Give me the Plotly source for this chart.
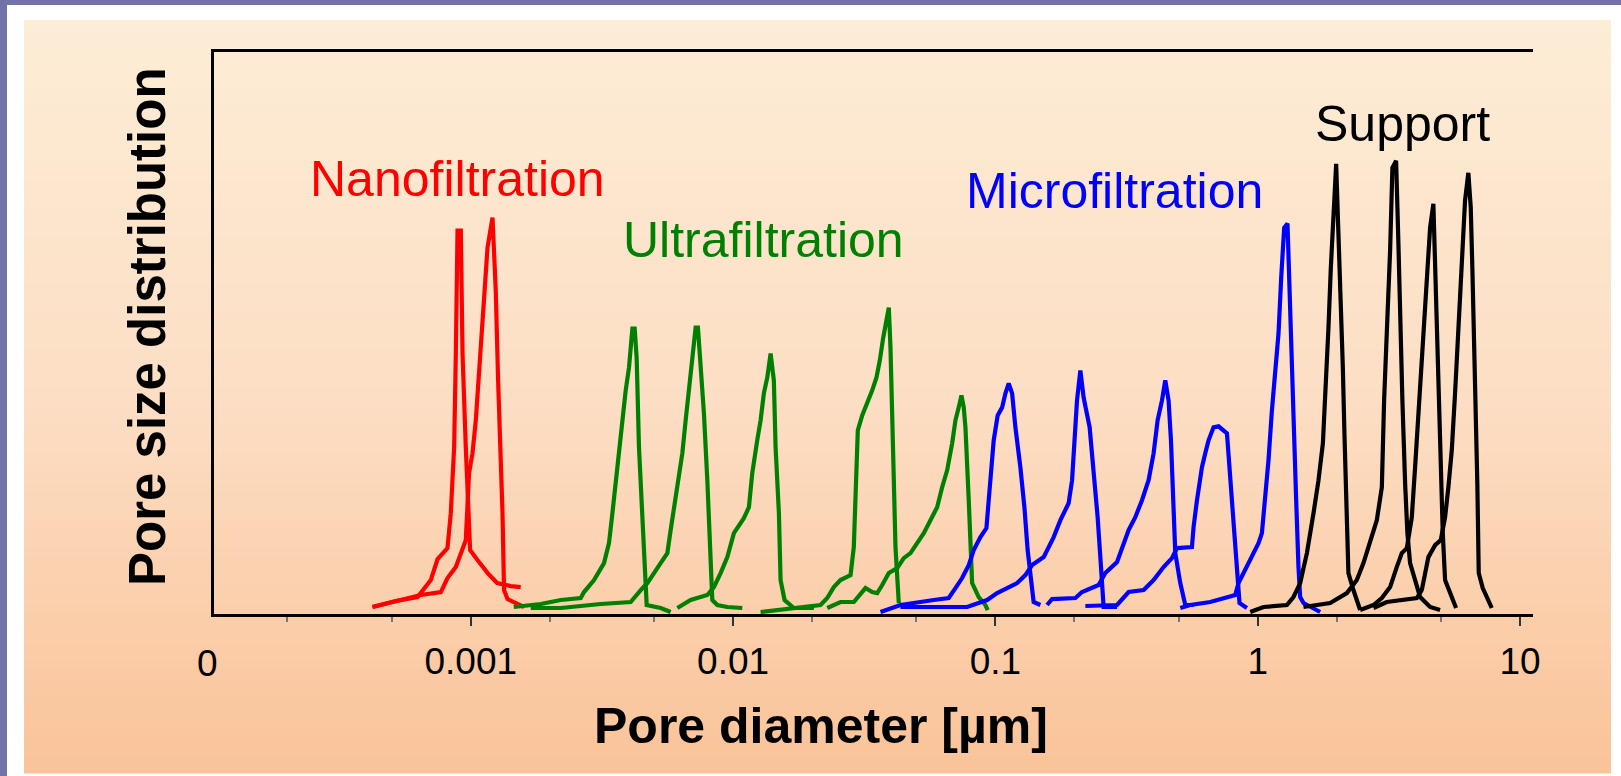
import plotly.graph_objects as go

# ---------------- data (pore diameter in µm, distribution in arbitrary units) -------------
nano_a_x = [0.000422, 0.000518, 0.000627, 0.000704, 0.000747, 0.000815, 0.000839, 0.000864, 0.000877,
            0.000890, 0.000916, 0.000930, 0.000957, 0.000977, 0.000994, 0.00106, 0.00116, 0.00126, 0.00142, 0.00155]
nano_a_y = [7, 13, 17, 34, 55, 66, 101, 167, 261, 384, 384, 261, 167, 101, 64, 54, 41, 31, 28, 27]

nano_b_x = [0.000422, 0.000510, 0.000645, 0.000769, 0.000815, 0.000877, 0.000930, 0.000957, 0.000985,
            0.001015, 0.001045, 0.001076, 0.001118, 0.001158, 0.00121, 0.001245, 0.001271, 0.001301,
            0.001321, 0.001339, 0.00138, 0.001484, 0.001596]
nano_b_y = [7, 12, 19, 22, 36, 47, 67, 74, 141, 161, 194, 247, 317, 367, 397, 324, 234, 161, 101, 24, 15, 11, 7]

ultra_1_x = [0.001458, 0.001848, 0.002203, 0.002625, 0.002702, 0.00295, 0.00322, 0.003364, 0.003466,
             0.003568, 0.003673, 0.003784, 0.003895, 0.00401, 0.004131, 0.004215, 0.004289, 0.004377,
             0.004509, 0.004642, 0.004683, 0.005294, 0.00578]
ultra_1_y = [7, 10, 14, 16, 22, 34, 51, 71, 101, 134, 161, 194, 224, 247, 286, 286, 256, 167, 101, 34, 9, 6, 2]

ultra_2_x = [0.001693, 0.002203, 0.003128, 0.00407, 0.004443, 0.004711, 0.005294, 0.005615, 0.00578,
             0.006039, 0.006216, 0.006404, 0.006593, 0.006786, 0.006992, 0.007197, 0.007344, 0.00752,
             0.007741, 0.007975, 0.008159, 0.008332, 0.008706, 0.009506, 0.01084]
ultra_2_y = [6, 6, 10, 12, 24, 31, 51, 61, 84, 117, 134, 161, 194, 224, 254, 287, 287, 251, 201, 134, 67, 14, 9, 7, 6]

ultra_3_x = [0.00613, 0.006888, 0.007975, 0.00845, 0.008961, 0.009506, 0.01007, 0.01099, 0.01149,
             0.01183, 0.01236, 0.01273, 0.0131, 0.0135, 0.0139, 0.0143, 0.01452, 0.01495, 0.01517,
             0.01571, 0.01705, 0.02032]
ultra_3_y = [6, 14, 19, 27, 41, 57, 81, 96, 107, 141, 174, 194, 221, 237, 261, 234, 167, 101, 34, 14, 6, 6]

ultra_4_x = [0.01273, 0.01705, 0.02154, 0.02285, 0.02421, 0.02567, 0.02804, 0.02885, 0.02929, 0.02988,
             0.03106, 0.03245, 0.03391, 0.03521, 0.03625, 0.03735, 0.03844, 0.03923, 0.03981, 0.04041,
             0.04098, 0.0416, 0.04282]
ultra_4_y = [2, 6, 9, 16, 27, 34, 39, 67, 134, 184, 199, 211, 224, 237, 254, 277, 297, 307, 267, 201, 134, 67, 11]

ultra_5_x = [0.02285, 0.02567, 0.02885, 0.0306, 0.03197, 0.03391, 0.03543, 0.03702, 0.03923, 0.04222,
             0.04474, 0.04745, 0.05032, 0.05332, 0.05654, 0.05996, 0.06265, 0.06546, 0.0684, 0.07041,
             0.07248, 0.07422, 0.07573, 0.07687, 0.07913, 0.08031, 0.08152, 0.08638, 0.09161, 0.09348]
ultra_5_y = [6, 12, 12, 21, 26, 22, 21, 29, 41, 46, 56, 61, 71, 81, 94, 107, 127, 144, 171, 194, 207, 219,
             207, 187, 114, 64, 31, 17, 9, 4]

micro_1_x = [0.03647, 0.04346, 0.05821, 0.06639, 0.07041, 0.07467, 0.07913, 0.08267, 0.08768, 0.09242,
             0.0943, 0.0963, 0.09852, 0.102, 0.1061, 0.1092, 0.1124, 0.1158, 0.1192, 0.1245, 0.129,
             0.1327, 0.1368, 0.1399, 0.1484]
micro_1_y = [2, 9, 14, 16, 26, 36, 49, 64, 77, 86, 114, 141, 174, 199, 207, 221, 231, 221, 187, 147, 107,
             64, 31, 12, 9]

micro_2_x = [0.04346, 0.07802, 0.09299, 0.1015, 0.1108, 0.121, 0.1301, 0.138, 0.1528, 0.1596, 0.1668,
             0.1769, 0.1902, 0.196, 0.2, 0.2047, 0.2108, 0.2169, 0.2287, 0.2368, 0.2453, 0.2527, 0.2585, 0.2909]
micro_2_y = [7, 7, 14, 21, 26, 31, 39, 49, 57, 66, 77, 94, 111, 134, 174, 214, 244, 217, 187, 147, 97, 47, 7, 7]

micro_3_x = [0.1574, 0.1644, 0.2017, 0.2139, 0.2474, 0.2624, 0.2909, 0.3039, 0.322, 0.3415, 0.3621,
             0.3837, 0.401, 0.4153, 0.4316, 0.4443, 0.4573, 0.467, 0.4753, 0.485, 0.5067, 0.5294, 0.5694]
micro_3_y = [9, 15, 16, 22, 29, 41, 52, 66, 84, 97, 114, 134, 161, 194, 214, 234, 214, 174, 114, 61, 31, 9, 9]

micro_4_x = [0.2202, 0.2909, 0.322, 0.3673, 0.401, 0.4377, 0.4711, 0.4923, 0.5615, 0.5694, 0.5867,
             0.613, 0.631, 0.6495, 0.6786, 0.7091, 0.7634, 0.7858, 0.8089, 0.8332, 0.8524, 0.9096]
micro_4_y = [8, 9, 22, 24, 34, 47, 56, 66, 67, 87, 114, 147, 161, 174, 187, 188, 181, 137, 94, 47, 11, 6]

micro_5_x = [0.5067, 0.5532, 0.6592, 0.8209, 0.845, 0.8829, 0.9364, 1.007, 1.0375, 1.068, 1.0992,
             1.1327, 1.166, 1.2002, 1.229, 1.2617, 1.2987, 1.3298, 1.3689, 1.4017, 1.4303, 1.4518,
             1.4945, 1.73]
micro_5_y = [6, 9, 12, 19, 31, 41, 54, 71, 81, 114, 154, 204, 247, 281, 337, 387, 391, 314, 214, 114,
             47, 17, 11, 2]

support_1_x = [0.9364, 1.052, 1.292, 1.3689, 1.4518, 1.54, 1.632, 1.705, 1.772, 1.824, 1.861, 1.9,
               1.944, 1.991, 2.031, 2.074, 2.111, 2.141, 2.173, 2.217, 2.317, 2.457]
support_1_y = [2, 7, 9, 17, 31, 61, 101, 134, 171, 231, 287, 347, 401, 451, 381, 314, 247, 181, 114,
               41, 24, 4]

support_2_x = [1.4945, 1.889, 2.187, 2.387, 2.53, 2.683, 2.845, 2.973, 3.033, 3.122, 3.197, 3.262,
               3.37, 3.439, 3.49, 3.561, 3.647, 3.721, 3.81, 3.981, 4.16, 4.541, 4.958]
support_2_y = [7, 11, 21, 34, 51, 71, 94, 127, 214, 297, 364, 447, 454, 371, 297, 214, 131, 81, 51,
               34, 17, 7, 4]

support_3_x = [2.457, 2.762, 2.973, 3.197, 3.389, 3.543, 3.702, 3.868, 3.981, 4.098, 4.222, 4.346,
               4.45, 4.541, 4.674, 4.745, 4.816, 4.901, 4.988, 5.076, 5.18, 5.412, 5.705]
support_3_y = [4, 9, 16, 27, 47, 61, 66, 97, 147, 197, 247, 297, 347, 387, 411, 347, 281, 214, 147,
               81, 34, 21, 6]

support_4_x = [2.762, 3.106, 4.041, 4.222, 4.474, 4.745, 4.988, 5.18, 5.332, 5.493, 5.654, 5.821,
               5.996, 6.172, 6.354, 6.489, 6.581, 6.679, 6.78, 6.875, 6.96, 7.209, 7.506, 7.802]
support_4_y = [6, 12, 16, 24, 57, 69, 74, 97, 127, 164, 221, 287, 347, 414, 442, 407, 347, 281, 214,
               131, 41, 26, 16, 6]

tick_values = [0.001, 0.01, 0.1, 1, 10]
tick_labels = ["0.001", "0.01", "0.1", "1", "10"]
zero_label = "0"

groups = [
    ("Nanofiltration", "#ff0000", [(nano_a_x, nano_a_y), (nano_b_x, nano_b_y)]),
    ("Ultrafiltration", "#008000", [(ultra_1_x, ultra_1_y), (ultra_2_x, ultra_2_y), (ultra_3_x, ultra_3_y),
                                     (ultra_4_x, ultra_4_y), (ultra_5_x, ultra_5_y)]),
    ("Microfiltration", "#0000ff", [(micro_1_x, micro_1_y), (micro_2_x, micro_2_y), (micro_3_x, micro_3_y),
                                     (micro_4_x, micro_4_y), (micro_5_x, micro_5_y)]),
    ("Support", "#000000", [(support_1_x, support_1_y), (support_2_x, support_2_y),
                            (support_3_x, support_3_y), (support_4_x, support_4_y)]),
]

# ---------------- geometry / style -------------
W, H = 1621, 776
L, R, T, B = 214, 88, 52, 162
PW, PH = W - L - R, H - T - B
FONT = "Liberation Sans, Arial, sans-serif"


def px(xp):
    return (xp - L) / PW


def py(yp):
    return (T + PH - yp) / PH


fig = go.Figure()
for name, color, curves in groups:
    for cx, cy in curves:
        fig.add_trace(go.Scatter(x=cx, y=cy, mode="lines", name=name, showlegend=False,
                                 line=dict(color=color, width=4.2), hoverinfo="skip"))

shapes = []
# purple frame strips
purple = "#7272a8"
shapes.append(dict(type="rect", xref="paper", yref="paper", x0=px(0), x1=px(7), y0=py(H), y1=py(0),
                   fillcolor=purple, line=dict(width=0), layer="below"))
shapes.append(dict(type="rect", xref="paper", yref="paper", x0=px(0), x1=px(W), y0=py(5), y1=py(0),
                   fillcolor=purple, line=dict(width=0), layer="below"))
# peach vertical gradient
stops = [(20, (253, 237, 214)), (400, (252, 222, 196)), (773, (250, 195, 152))]
n_bands = 80
y_top, y_bot = 20, 773
for i in range(n_bands):
    a = y_top + (y_bot - y_top) * i / n_bands
    b = y_top + (y_bot - y_top) * (i + 1) / n_bands
    m = (a + b) / 2
    for (s0, c0), (s1, c1) in zip(stops[:-1], stops[1:]):
        if s0 <= m <= s1:
            t = (m - s0) / (s1 - s0)
            c = tuple(round(c0[k] + (c1[k] - c0[k]) * t) for k in range(3))
            break
    shapes.append(dict(type="rect", xref="paper", yref="paper", x0=px(24), x1=px(1611),
                       y0=py(b + 0.6), y1=py(a), fillcolor="rgb(%d,%d,%d)" % c,
                       line=dict(width=0), layer="below"))

annotations = []
label_pos = {"Nanofiltration": (457, 179), "Ultrafiltration": (763, 240),
             "Microfiltration": (1114, 191), "Support": (1402, 124)}
for name, color, _ in groups:
    xp, yp = label_pos[name]
    annotations.append(dict(text=name, x=px(xp), y=py(yp), xref="paper", yref="paper",
                            showarrow=False, xanchor="center", yanchor="middle",
                            font=dict(family=FONT, size=50, color=color)))
annotations.append(dict(text="<b>Pore diameter [µm]</b>", x=px(821), y=py(726), xref="paper", yref="paper",
                        showarrow=False, xanchor="center", yanchor="middle",
                        font=dict(family=FONT, size=50, color="black")))
annotations.append(dict(text="<b>Pore size distribution</b>", x=px(147), y=py(327), xref="paper",
                        yref="paper", showarrow=False, xanchor="center", yanchor="middle", textangle=-90,
                        font=dict(family=FONT, size=51, color="black")))
annotations.append(dict(text=zero_label, x=px(207), y=py(663), xref="paper", yref="paper",
                        showarrow=False, xanchor="center", yanchor="middle",
                        font=dict(family=FONT, size=37, color="black")))

fig.update_layout(
    width=W, height=H,
    margin=dict(l=L, r=R, t=T, b=B, pad=0),
    paper_bgcolor="white", plot_bgcolor="rgba(0,0,0,0)",
    shapes=shapes, annotations=annotations,
    showlegend=False,
    xaxis=dict(type="log", range=[-3.979, 1.0495], showgrid=False, zeroline=False,
               showline=True, linecolor="black", linewidth=3, mirror=True,
               tickvals=tick_values, ticktext=tick_labels, ticks="outside", ticklen=9,
               tickwidth=2, tickcolor="#333333", ticklabelstandoff=4,
               tickfont=dict(family=FONT, size=37, color="black"),
               minor=dict(ticks="outside", ticklen=5, tickwidth=1.5, tickcolor="#777777",
                          showgrid=False)),
    yaxis=dict(range=[0, 563], showgrid=False, zeroline=False, showline=True, linecolor="black",
               linewidth=3, showticklabels=False, ticks=""),
)

fig.write_html("out.html", config={"displayModeBar": False},
               post_script="document.body.style.margin='0';document.body.style.overflow='hidden';")
